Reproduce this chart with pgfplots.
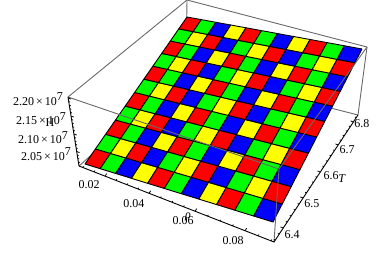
\documentclass[border=0pt]{standalone}
\usepackage{fontspec}
\setmainfont{Liberation Serif}
\usepackage{pgfplots}
\pgfplotsset{compat=1.18}
\definecolor{boxgrey}{RGB}{105,105,105}
% Projection of the plot plane (cell indices u,v = 0..11) on to the picture
\newcommand{\den}{(-0.1248*\thisrow{u}/11+0.1378*\thisrow{v}/11+1)}
\newcommand{\lab}[1]{\fontsize{12}{12}\selectfont #1}
\newcommand{\zlab}[1]{\fontsize{12}{12}\selectfont #1\,×\,10\raisebox{4.5pt}{7}}
\begin{document}
\begin{tikzpicture}
\useasboundingbox (0,0) rectangle (376pt,255pt);
\begin{axis}[
  at={(0,0)}, anchor=south west,
  hide axis, scale only axis,
  width=376pt, height=255pt,
  xmin=0, xmax=376, ymin=0, ymax=255, y dir=reverse,
  colormap={rgby}{rgb255=(255,0,0) rgb255=(0,255,0) rgb255=(0,0,255) rgb255=(255,255,0)},
  point meta min=0, point meta max=3,
]
% hidden edges of the box, behind the surface
\addplot[boxgrey, line width=0.9pt] coordinates {(79,166) (186,71) (358,115)};
\addplot[boxgrey, line width=0.9pt] coordinates {(186,71) (187,0)};
\addplot[boxgrey, line width=0.9pt] coordinates {(68,97) (187,0) (367,47) (358,115)};
% checkered surface
\addplot[patch, patch type=rectangle, shader=faceted, faceted color=black, line width=0.9pt,
  table/row sep=\\,
  patch table with point meta={
0 1 13 12 0\\
1 2 14 13 1\\
2 3 15 14 2\\
3 4 16 15 3\\
4 5 17 16 0\\
5 6 18 17 1\\
6 7 19 18 2\\
7 8 20 19 3\\
8 9 21 20 0\\
9 10 22 21 1\\
10 11 23 22 2\\
12 13 25 24 1\\
13 14 26 25 3\\
14 15 27 26 0\\
15 16 28 27 2\\
16 17 29 28 1\\
17 18 30 29 3\\
18 19 31 30 0\\
19 20 32 31 2\\
20 21 33 32 1\\
21 22 34 33 3\\
22 23 35 34 0\\
24 25 37 36 0\\
25 26 38 37 1\\
26 27 39 38 2\\
27 28 40 39 3\\
28 29 41 40 0\\
29 30 42 41 1\\
30 31 43 42 2\\
31 32 44 43 3\\
32 33 45 44 0\\
33 34 46 45 1\\
34 35 47 46 2\\
36 37 49 48 1\\
37 38 50 49 3\\
38 39 51 50 0\\
39 40 52 51 2\\
40 41 53 52 1\\
41 42 54 53 3\\
42 43 55 54 0\\
43 44 56 55 2\\
44 45 57 56 1\\
45 46 58 57 3\\
46 47 59 58 0\\
48 49 61 60 0\\
49 50 62 61 1\\
50 51 63 62 2\\
51 52 64 63 3\\
52 53 65 64 0\\
53 54 66 65 1\\
54 55 67 66 2\\
55 56 68 67 3\\
56 57 69 68 0\\
57 58 70 69 1\\
58 59 71 70 2\\
60 61 73 72 1\\
61 62 74 73 3\\
62 63 75 74 0\\
63 64 76 75 2\\
64 65 77 76 1\\
65 66 78 77 3\\
66 67 79 78 0\\
67 68 80 79 2\\
68 69 81 80 1\\
69 70 82 81 3\\
70 71 83 82 0\\
72 73 85 84 0\\
73 74 86 85 1\\
74 75 87 86 2\\
75 76 88 87 3\\
76 77 89 88 0\\
77 78 90 89 1\\
78 79 91 90 2\\
79 80 92 91 3\\
80 81 93 92 0\\
81 82 94 93 1\\
82 83 95 94 2\\
84 85 97 96 1\\
85 86 98 97 3\\
86 87 99 98 0\\
87 88 100 99 2\\
88 89 101 100 1\\
89 90 102 101 3\\
90 91 103 102 0\\
91 92 104 103 2\\
92 93 105 104 1\\
93 94 106 105 3\\
94 95 107 106 0\\
96 97 109 108 0\\
97 98 110 109 1\\
98 99 111 110 2\\
99 100 112 111 3\\
100 101 113 112 0\\
101 102 114 113 1\\
102 103 115 114 2\\
103 104 116 115 3\\
104 105 117 116 0\\
105 106 118 117 1\\
106 107 119 118 2\\
108 109 121 120 1\\
109 110 122 121 3\\
110 111 123 122 0\\
111 112 124 123 2\\
112 113 125 124 1\\
113 114 126 125 3\\
114 115 127 126 0\\
115 116 128 127 2\\
116 117 129 128 1\\
117 118 130 129 3\\
118 119 131 130 0\\
120 121 133 132 0\\
121 122 134 133 1\\
122 123 135 134 2\\
123 124 136 135 3\\
124 125 137 136 0\\
125 126 138 137 1\\
126 127 139 138 2\\
127 128 140 139 3\\
128 129 141 140 0\\
129 130 142 141 1\\
130 131 143 142 2\\
  },
] table[
  x expr={(153.93*\thisrow{u}/11+127.77*\thisrow{v}/11+85)/\den},
  y expr={(30.29*\thisrow{u}/11-144.66*\thisrow{v}/11+164)/\den},
] {
u v\\
0 0\\ 1 0\\ 2 0\\ 3 0\\ 4 0\\ 5 0\\ 6 0\\ 7 0\\ 8 0\\ 9 0\\ 10 0\\ 11 0\\
0 1\\ 1 1\\ 2 1\\ 3 1\\ 4 1\\ 5 1\\ 6 1\\ 7 1\\ 8 1\\ 9 1\\ 10 1\\ 11 1\\
0 2\\ 1 2\\ 2 2\\ 3 2\\ 4 2\\ 5 2\\ 6 2\\ 7 2\\ 8 2\\ 9 2\\ 10 2\\ 11 2\\
0 3\\ 1 3\\ 2 3\\ 3 3\\ 4 3\\ 5 3\\ 6 3\\ 7 3\\ 8 3\\ 9 3\\ 10 3\\ 11 3\\
0 4\\ 1 4\\ 2 4\\ 3 4\\ 4 4\\ 5 4\\ 6 4\\ 7 4\\ 8 4\\ 9 4\\ 10 4\\ 11 4\\
0 5\\ 1 5\\ 2 5\\ 3 5\\ 4 5\\ 5 5\\ 6 5\\ 7 5\\ 8 5\\ 9 5\\ 10 5\\ 11 5\\
0 6\\ 1 6\\ 2 6\\ 3 6\\ 4 6\\ 5 6\\ 6 6\\ 7 6\\ 8 6\\ 9 6\\ 10 6\\ 11 6\\
0 7\\ 1 7\\ 2 7\\ 3 7\\ 4 7\\ 5 7\\ 6 7\\ 7 7\\ 8 7\\ 9 7\\ 10 7\\ 11 7\\
0 8\\ 1 8\\ 2 8\\ 3 8\\ 4 8\\ 5 8\\ 6 8\\ 7 8\\ 8 8\\ 9 8\\ 10 8\\ 11 8\\
0 9\\ 1 9\\ 2 9\\ 3 9\\ 4 9\\ 5 9\\ 6 9\\ 7 9\\ 8 9\\ 9 9\\ 10 9\\ 11 9\\
0 10\\ 1 10\\ 2 10\\ 3 10\\ 4 10\\ 5 10\\ 6 10\\ 7 10\\ 8 10\\ 9 10\\ 10 10\\ 11 10\\
0 11\\ 1 11\\ 2 11\\ 3 11\\ 4 11\\ 5 11\\ 6 11\\ 7 11\\ 8 11\\ 9 11\\ 10 11\\ 11 11\\
};
% front edges of the box, drawn over the surface
\addplot[boxgrey, line width=0.9pt] coordinates {(68,97) (279,169) (367,47)};
\addplot[boxgrey, line width=0.9pt] coordinates {(274,242) (279,169)};
% the three edges that carry ticks
\addplot[black, line width=0.9pt] coordinates {(68,97) (79,166) (274,242) (358,115)};
% x ticks
\addplot[black, line width=0.8pt, quiver={u=1.7,v=-2.5}] coordinates {(105,176.1) (149,193.3) (195,211.2) (245,230.7)};
\addplot[black, line width=0.8pt, quiver={u=0.8,v=-1.2}] coordinates {(83,167.6) (94,171.8) (116,180.4) (127,184.7) (138,189) (160.5,197.8) (172,202.2) (183.5,206.7) (207.5,216.1) (220,221) (232.5,225.8) (258,235.8) (271,240.8)};
% T ticks
\addplot[black, line width=0.8pt, quiver={u=-2.8,v=-1.1}] coordinates {(283.3,228) (303.1,198) (320.3,172) (338.2,145) (353.4,122)};
\addplot[black, line width=0.8pt, quiver={u=-1.4,v=-0.5}] coordinates {(275.3,240) (279.3,234) (287.2,222) (291.2,216) (295.2,210) (299.1,204) (306.5,192.8) (310,187.6) (313.4,182.4) (316.9,177.2) (323.9,166.6) (327.4,161.2) (331,155.8) (334.6,150.4) (341.2,140.4) (344.2,135.8) (347.3,131.2) (350.3,126.6) (356.3,117.6)};
% z ticks
\addplot[black, line width=0.8pt, quiver={u=2.8,v=1.1}] coordinates {(68.2,98) (71,116) (73.9,134) (76.7,151.5)};
\addplot[black, line width=0.8pt, quiver={u=1.4,v=0.5}] coordinates {(68.7,101.6) (69.3,105.2) (69.9,108.8) (70.4,112.4) (71.6,119.6) (72.2,123.2) (72.7,126.8) (73.3,130.4) (74.5,137.5) (75,141) (75.6,144.5) (76.1,148) (77.2,155) (77.8,158.5) (78.3,162)};
% labels
\node[inner sep=0pt] at (axis cs:38,99) {\zlab{2.20}};
\node[inner sep=0pt] at (axis cs:41,118.5) {\zlab{2.15}};
\node[inner sep=0pt] at (axis cs:43,137.5) {\zlab{2.10}};
\node[inner sep=0pt] at (axis cs:46,154) {\zlab{2.05}};
\node[inner sep=0pt] at (axis cs:50,123) {\lab{H}};
\node[inner sep=0pt] at (axis cs:89,185) {\lab{0.02}};
\node[inner sep=0pt] at (axis cs:134,204) {\lab{0.04}};
\node[inner sep=0pt] at (axis cs:183,221) {\lab{0.06}};
\node[inner sep=0pt] at (axis cs:188,217) {\lab{\textit{ρ}}};
\node[inner sep=0pt] at (axis cs:233,241) {\lab{0.08}};
\node[inner sep=0pt] at (axis cs:292,235) {\lab{6.4}};
\node[inner sep=0pt] at (axis cs:312,204) {\lab{6.5}};
\node[inner sep=0pt] at (axis cs:331,176) {\lab{6.6}};
\node[inner sep=0pt] at (axis cs:342,179) {\lab{\textit{T}}};
\node[inner sep=0pt] at (axis cs:347,150) {\lab{6.7}};
\node[inner sep=0pt] at (axis cs:362,124) {\lab{6.8}};
\end{axis}
\end{tikzpicture}
\end{document}
